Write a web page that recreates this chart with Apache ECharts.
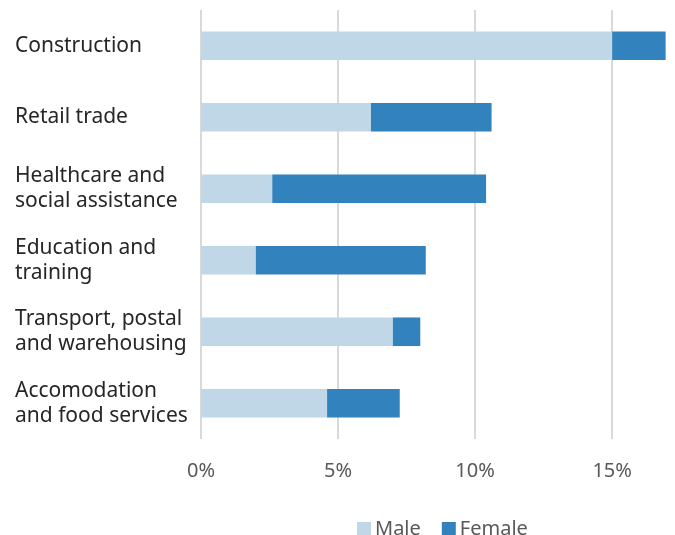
<!DOCTYPE html>
<html>
<head>
<meta charset="utf-8">
<script src="https://cdn.jsdelivr.net/npm/echarts@6/dist/echarts.min.js"></script>
<style>
html,body{margin:0;padding:0;background:#fff;}
#chart{width:675px;height:535px;}
</style>
</head>
<body>
<div id="chart"></div>
<script>
var categories = ["Construction", "Retail trade", "Healthcare and\nsocial assistance", "Education and\ntraining", "Transport, postal\nand warehousing", "Accomodation\nand food services"];
var male = [15.0, 6.2, 2.6, 2.0, 7.0, 4.6];
var female = [1.95, 4.4, 7.8, 6.2, 1.0, 2.65];
var xTicks = [0, 5, 10, 15];

var chart = echarts.init(document.getElementById('chart'));
var font = "'Noto Sans', sans-serif";
chart.setOption({
  animation: false,
  grid: {left: 201, right: 8, top: 10, bottom: 96},
  legend: {
    data: ['Male', 'Female'],
    left: 352, top: 514,
    itemWidth: 14, itemHeight: 14, itemGap: 21,
    icon: 'rect',
    textStyle: {color: '#595959', fontSize: 20, fontFamily: font, padding: [0,0,0,-1]}
  },
  xAxis: {
    type: 'value', min: 0, max: 17, interval: 5,
    axisLine: {show: false}, axisTick: {show: false},
    axisLabel: {
      color: '#595959', fontSize: 20, fontFamily: font, margin: 22,
      showMaxLabel: false,
      formatter: function (v) { return xTicks.indexOf(v) >= 0 ? v + '%' : ''; }
    },
    splitLine: {show: true, showMaxLine: false, lineStyle: {color: '#d9d9d9', width: 2}}
  },
  yAxis: {
    type: 'category', data: categories, inverse: true,
    axisLine: {show: false}, axisTick: {show: false},
    axisLabel: {align: 'left', margin: 186, color: '#262626', fontSize: 21, lineHeight: 25, fontFamily: font}
  },
  series: [
    {name: 'Male', type: 'bar', stack: 'total', data: male, barWidth: '40%',
     itemStyle: {color: '#BFD7E6'}},
    {name: 'Female', type: 'bar', stack: 'total', data: female, barWidth: '40%',
     itemStyle: {color: '#3282BD'}}
  ]
});
</script>
</body>
</html>
